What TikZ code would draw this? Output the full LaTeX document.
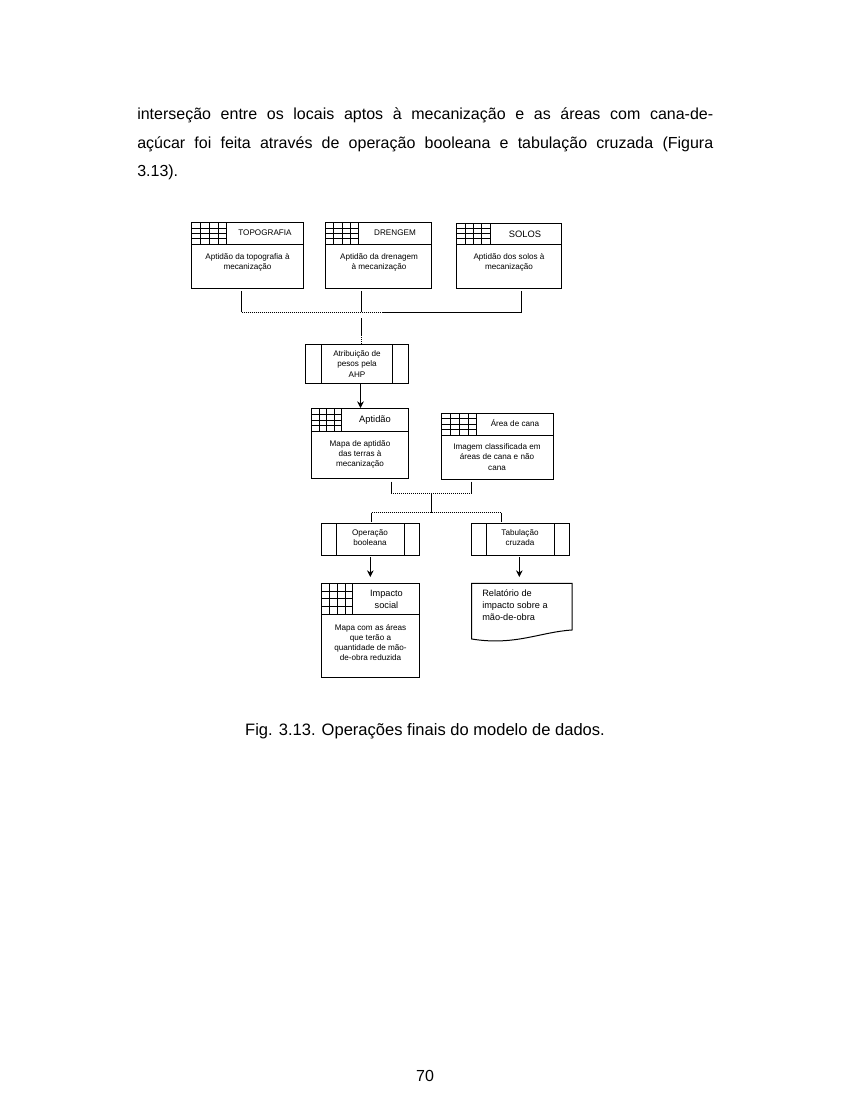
\documentclass[tikz,border=0pt]{standalone}
\usepackage{fontspec}
\setmainfont{Liberation Sans}
\usetikzlibrary{fit,arrows.meta}
\tikzset{
  x=0.75pt,y=-0.75pt,
  boxn/.style={draw=black,line width=0.75pt,inner sep=0pt,outer sep=0pt,fill=white},
  wire/.style={draw=black,line width=0.75pt},
  dots/.style={draw=black,line width=0.75pt,dash pattern=on 0.75pt off 0.75pt},
  flow/.style={draw=black,line width=0.75pt,-{Stealth[length=5pt,width=5pt]}},
  gridl/.style={draw=black,line width=0.6pt},
  divd/.style={draw=black,line width=0.75pt},
  smalltxt/.style={font=\fontsize{6.1pt}{7.6pt}\selectfont,align=center,inner sep=0pt},
  headtxt/.style={font=\fontsize{6.1pt}{7.6pt}\selectfont,align=center,inner sep=0pt},
  bigtxt/.style={font=\fontsize{6.9pt}{9pt}\selectfont,align=center,inner sep=0pt},
  bodytxt/.style={font=\fontsize{12pt}{14pt}\selectfont,anchor=base west,inner sep=0pt},
  captxt/.style={font=\fontsize{12pt}{14pt}\selectfont,anchor=base,inner sep=0pt},
}
% #1 name, #2 x1, #3 y1, #4 x2, #5 y2, #6 grid right edge, #7 header bottom
\newcommand{\tablebox}[7]{%
  \node[boxn,fit={(#2,#3)(#4,#5)}] (#1) {};
  \draw[divd] (#2,#7) -- (#4,#7);
  \draw[divd] (#6,#3) -- (#6,#7);
  \pgfmathsetmacro{\gw}{(#6-#2)/4}
  \pgfmathsetmacro{\gh}{(#7-#3)/4}
  \foreach \k in {1,2,3}{
    \draw[gridl] ({#2+\k*\gw},#3) -- ({#2+\k*\gw},#7);
    \draw[gridl] (#2,{#3+\k*\gh}) -- (#6,{#3+\k*\gh});
  }%
}
% #1 name, #2 x1, #3 y1, #4 x2, #5 y2, #6 left inner, #7 right inner
\newcommand{\procbox}[7]{%
  \node[boxn,fit={(#2,#3)(#4,#5)}] (#1) {};
  \draw[divd] (#6,#3) -- (#6,#5);
  \draw[divd] (#7,#3) -- (#7,#5);
}
\begin{document}
\begin{tikzpicture}
\useasboundingbox (0,0) rectangle (850,1100);
\fill[white] (0,0) rectangle (850,1100);

\node[bodytxt] (l1) at (137,119) {\makebox[432pt][s]{interseção entre os locais aptos à mecanização e as áreas com cana-de-}};
\node[bodytxt] (l2) at (137,148) {\makebox[432pt][s]{açúcar foi feita através de operação booleana e tabulação cruzada (Figura}};
\node[bodytxt] (l3) at (137,176) {3.13).};

\tablebox{topo}{191.7}{222.7}{303}{288.5}{226.7}{244}
\node[headtxt] (topoh) at (265,233) {TOPOGRAFIA};
\node[smalltxt] (topot) at (247.5,262) {Aptidão da topografia à\\mecanização};

\tablebox{dren}{325.7}{222.7}{431.7}{288.5}{358.3}{244}
\node[headtxt] (drenh) at (395,233) {DRENGEM};
\node[smalltxt] (drent) at (379,262) {Aptidão da drenagem\\à mecanização};

\tablebox{solo}{456.7}{223.3}{561.7}{288.7}{490}{244}
\node[font=\fontsize{7pt}{8pt}\selectfont,inner sep=0pt] (soloh) at (525,234.5) {SOLOS};
\node[smalltxt] (solot) at (509,262) {Aptidão dos solos à\\mecanização};

\procbox{ahp}{305}{344.3}{408.7}{383.3}{321.3}{392.3}
\node[smalltxt] (ahpt) at (357,364) {Atribuição de\\pesos pela\\AHP};

\tablebox{apt}{311.3}{408.3}{408.7}{478.3}{341.7}{431.7}
\draw[line width=1pt] (341.7,431.7) -- (408.7,431.7);
\node[font=\fontsize{7pt}{8pt}\selectfont,inner sep=0pt] (apth) at (375,420) {Aptidão};
\node[smalltxt] (aptt) at (360,454.5) {Mapa de aptidão\\das terras à\\mecanização};

\tablebox{area}{441.7}{413.3}{553}{479.3}{476.7}{435}
\node[headtxt] (areah) at (515,423) {Área de cana};
\node[smalltxt] (areat) at (497,457) {Imagem classificada em\\áreas de cana e não\\cana};

\procbox{oper}{321.7}{523.3}{419.3}{555.7}{336.3}{404}
\node[smalltxt] (opert) at (370,538) {Operação\\booleana};
\procbox{tabu}{471.7}{523.3}{569.3}{555.7}{486.3}{554}
\node[smalltxt] (tabut) at (520,538) {Tabulação\\cruzada};

\tablebox{imp}{321.7}{583.3}{419.3}{677.3}{352.7}{614.3}
\node[bigtxt] (imph) at (386.5,599.5) {Impacto\\social};
\node[smalltxt] (impt) at (370.5,642.5) {Mapa com as áreas\\que terão a\\quantidade de mão-\\de-obra reduzida};

\node[draw=none,inner sep=0pt,minimum size=0pt] (doca) at (471.7,583.3) {};
\draw[wire,fill=white] (doca.center) -- (572,583.3) -- (572,630) .. controls (540,632) and (515,646) .. (471.7,639) -- cycle;
\node[bigtxt,align=left,anchor=north west] (doct) at (482,589.5) {Relatório de\\impacto sobre a\\mão-de-obra};

% connectors, top row
\coordinate (t1) at (241.7,291);
\coordinate (t2) at (361,291);
\coordinate (t3) at (521.7,291);
\coordinate (j1) at (241.7,312);
\coordinate (j2) at (361,312);
\coordinate (j3) at (521.7,312);
\coordinate (j4) at (381.7,312);
\coordinate (c1) at (361,318);
\coordinate (c2) at (361,335);
\coordinate (c3) at (361,344);
\draw[wire] (t1) -- (j1);
\draw[wire] (t2) -- (j2);
\draw[wire] (t3) -- (j3) -- (j4);
\draw[dots] (j1) -- (j4);
\draw[wire] (c1) -- (c2);
\draw[dots] (c2) -- (c3);
\coordinate (a1) at (360.5,383.3);
\coordinate (a2) at (360.5,408);
\draw[flow] (a1) -- (a2);

% connectors, middle
\coordinate (m1) at (391.3,481.7);
\coordinate (m2) at (391.3,493.3);
\coordinate (m3) at (471.7,481.7);
\coordinate (m4) at (471.7,493.3);
\coordinate (m5) at (431.3,493.3);
\coordinate (m6) at (431.3,512.7);
\coordinate (m7) at (371.7,512.7);
\coordinate (m8) at (371.7,521.7);
\coordinate (m9) at (501.7,512.7);
\coordinate (m10) at (501.7,521.7);
\draw[wire] (m1) -- (m2);
\draw[wire] (m3) -- (m4);
\draw[dots] (m2) -- (m4);
\draw[wire] (m5) -- (m6);
\draw[dots] (m7) -- (m9);
\draw[wire] (m7) -- (m8);
\draw[wire] (m9) -- (m10);

\coordinate (b1) at (370.3,557);
\coordinate (b2) at (370.3,577);
\coordinate (b3) at (519.3,557);
\coordinate (b4) at (519.3,577);
\draw[flow] (b1) -- (b2);
\draw[flow] (b3) -- (b4);

\node[captxt] (capt) at (425,735) {\fontsize{12.4pt}{14pt}\selectfont Fig. 3.13. Operações finais do modelo de dados.};
\node[captxt] (pag) at (425,1081.5) {70};
\end{tikzpicture}
\end{document}
